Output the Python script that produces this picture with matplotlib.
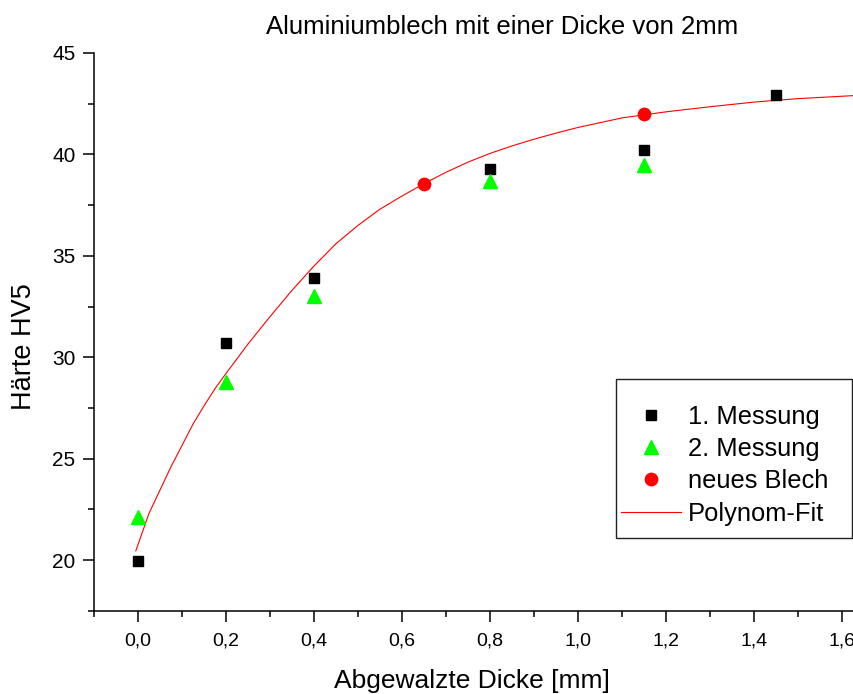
import matplotlib
matplotlib.use('Agg')
import matplotlib.pyplot as plt
from matplotlib.ticker import MultipleLocator, FuncFormatter
from matplotlib.patches import Rectangle

plt.rcParams['font.family'] = ['Liberation Sans', 'DejaVu Sans']

# Messwerte
messung1_x = [0.0, 0.2, 0.4, 0.8, 1.15, 1.45]
messung1_y = [19.93, 30.71, 33.92, 39.3, 40.2, 42.92]

messung2_x = [0.0, 0.2, 0.4, 0.8, 1.15]
messung2_y = [22.12, 28.8, 33.0, 38.69, 39.48]

blech_x = [0.65, 1.15]
blech_y = [38.56, 42.0]

# Fit-Kurve
fit_x = [-0.005, 0.025, 0.05, 0.075, 0.1, 0.125, 0.15, 0.175, 0.2, 0.25, 0.3,
         0.35, 0.4, 0.45, 0.5, 0.55, 0.6, 0.65, 0.7, 0.75, 0.8, 0.85, 0.9,
         0.95, 1.0, 1.1, 1.2, 1.3, 1.4, 1.5, 1.627]
fit_y = [20.45, 22.3, 23.45, 24.6, 25.65, 26.7, 27.6, 28.45, 29.2, 30.65, 32.0,
         33.3, 34.5, 35.6, 36.5, 37.3, 37.95, 38.56, 39.12, 39.62, 40.05, 40.42,
         40.75, 41.05, 41.33, 41.8, 42.1, 42.35, 42.58, 42.75, 42.9]

W, H = 854, 694
fig = plt.figure(figsize=(W / 100, H / 100), dpi=100)
ax = fig.add_axes([94 / W, 1 - 610.7 / H, (W - 94) / W, (610.7 - 53) / H])

ax.plot(fit_x, fit_y, color='#ff0000', lw=0.8, zorder=2, label='Polynom-Fit')
ax.plot(messung1_x, messung1_y, 's', color='black', ms=7.7, zorder=3,
        label='1. Messung')
ax.plot(messung2_x, messung2_y, '^', color='#00ff00', ms=10, zorder=3,
        label='2. Messung')
ax.plot(blech_x, blech_y, 'o', color='#ff0000', ms=8.9, zorder=4,
        label='neues Blech')

ax.set_xlim(-0.1, 1.627)
ax.set_ylim(17.5, 45)

for s in ['top', 'right']:
    ax.spines[s].set_visible(False)
for s in ['left', 'bottom']:
    ax.spines[s].set_linewidth(1.1)

ax.xaxis.set_major_locator(MultipleLocator(0.2))
ax.xaxis.set_minor_locator(MultipleLocator(0.1))
ax.yaxis.set_major_locator(MultipleLocator(5))
ax.yaxis.set_minor_locator(MultipleLocator(2.5))
ax.xaxis.set_major_formatter(FuncFormatter(lambda v, p: f"{v:.1f}".replace('.', ',')))
ax.yaxis.set_major_formatter(FuncFormatter(lambda v, p: f"{v:.0f}"))

ax.tick_params(which='both', direction='out', width=1.1)
ax.tick_params(which='major', length=8)
ax.tick_params(which='minor', length=4.5)
ax.tick_params(axis='x', which='major', pad=7.5, labelsize=14)
ax.tick_params(axis='y', which='major', pad=5.3, labelsize=15)

fig.text(502.5 / W, 1 - 34 / H, 'Aluminiumblech mit einer Dicke von 2mm',
         ha='center', va='baseline', fontsize=18.5)
fig.text(471.5 / W, 1 - 688 / H, 'Abgewalzte Dicke [mm]',
         ha='center', va='baseline', fontsize=19)
fig.text(24 / W, 1 - 347 / H, 'Härte HV5', rotation=90,
         ha='center', va='center', fontsize=19.5)

handles, labels = ax.get_legend_handles_labels()
order = [1, 2, 3, 0]
leg = ax.legend([handles[i] for i in order], [labels[i] for i in order],
                loc='upper left', bbox_to_anchor=(621 / W, 1 - 405 / H),
                bbox_transform=fig.transFigure, frameon=False, borderpad=0,
                borderaxespad=0, fontsize=18.4, handlelength=2.35,
                handletextpad=0.27, labelspacing=0.32, numpoints=1)

fig.add_artist(Rectangle((616 / W, 1 - 538 / H), (852 - 616) / W, (538 - 379) / H,
                         transform=fig.transFigure, fill=False,
                         edgecolor='#222222', lw=1.0))

fig.savefig('out.png', dpi=100)
